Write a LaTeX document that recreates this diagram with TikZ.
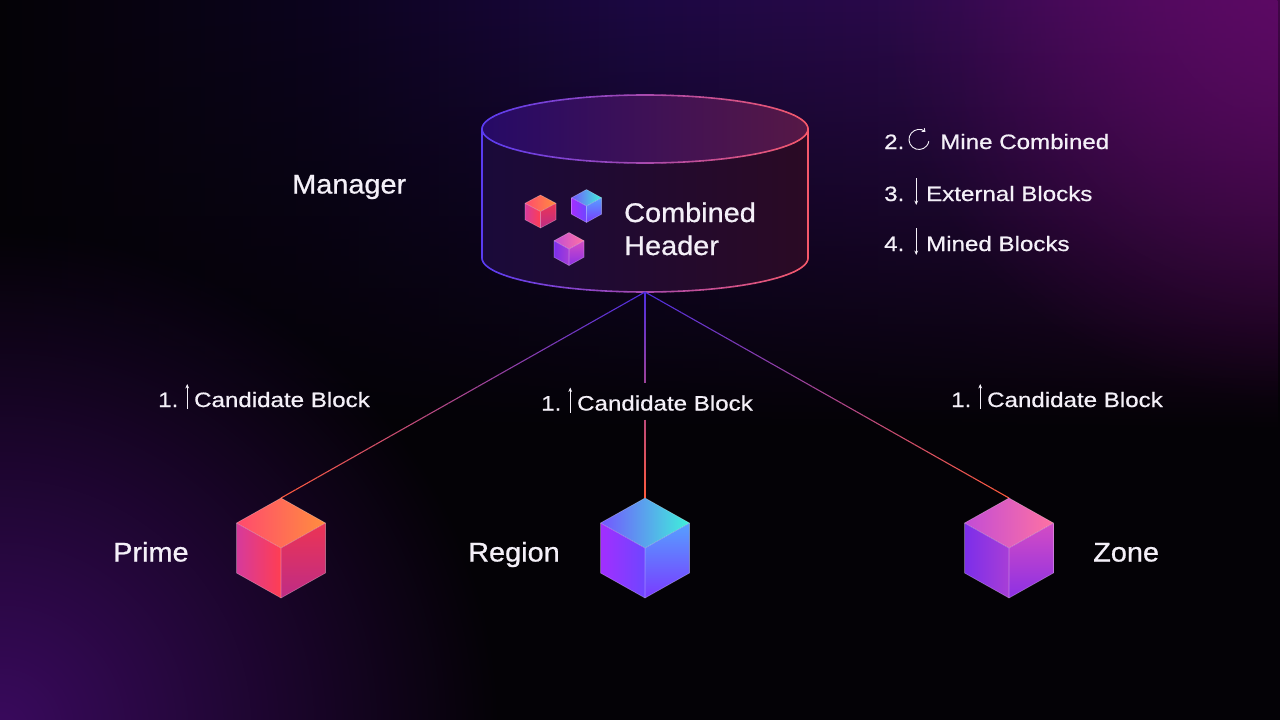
\documentclass[tikz,border=0pt]{standalone}
\usepackage{fontspec}
\setmainfont{Liberation Sans}[FakeStretch=1.07,FakeBold=0.8]
\newfontfamily\smallf{Liberation Sans}[FakeStretch=1.16,FakeBold=0.7]
\usetikzlibrary{calc,arrows.meta,fadings}

\definecolor{bg}{HTML}{040206}
\definecolor{txt}{HTML}{F4F0F8}
\definecolor{tb0}{HTML}{050307}
\definecolor{tb1}{HTML}{0C041E}
\definecolor{tb2}{HTML}{1C0842}
\definecolor{tb3}{HTML}{2E0A4C}
\definecolor{tb4}{HTML}{5C0A64}
\definecolor{blg}{HTML}{3A0A5E}
\definecolor{blu}{HTML}{5A3CF2}
\definecolor{cor}{HTML}{F5586A}
\definecolor{lblu}{HTML}{4E2EE2}
\definecolor{lcor}{HTML}{FF5A3C}
\definecolor{bodyL}{HTML}{1A0A3A}
\definecolor{bodyR}{HTML}{2A0A24}
\definecolor{topL}{HTML}{260A66}
\definecolor{topR}{HTML}{561846}
% prime
\definecolor{pTopL}{HTML}{FF4A6E}
\definecolor{pTopR}{HTML}{FF8E3E}
\definecolor{pLfL}{HTML}{D63A9C}
\definecolor{pLfR}{HTML}{FF3E52}
\definecolor{pRfT}{HTML}{EC3454}
\definecolor{pRfB}{HTML}{BE2C86}
% region
\definecolor{rTopL}{HTML}{7456FF}
\definecolor{rTopR}{HTML}{3EF2DA}
\definecolor{rLfL}{HTML}{A22EFF}
\definecolor{rLfR}{HTML}{6E46FF}
\definecolor{rRfT}{HTML}{56A0FF}
\definecolor{rRfB}{HTML}{7A3AFF}
% zone
\definecolor{zTopL}{HTML}{C24CD6}
\definecolor{zTopR}{HTML}{FF72A2}
\definecolor{zLfL}{HTML}{7C2EEA}
\definecolor{zLfR}{HTML}{A83ED6}
\definecolor{zRfT}{HTML}{D44CC4}
\definecolor{zRfB}{HTML}{8C30E4}

\tikzfading[name=glowfade, inner color=transparent!0, outer color=transparent!100]
\tikzfading[name=topfade, top color=transparent!0, bottom color=transparent!100]
\pgfdeclarehorizontalshading{topband}{100bp}{color(0bp)=(tb0); color(25bp)=(tb0); color(37.5bp)=(tb1); color(50bp)=(tb2); color(62.5bp)=(tb3); color(75bp)=(tb4); color(100bp)=(tb4)}

\newcommand{\uparr}{\tikz[baseline=0pt,x=1pt,y=1pt]{\draw[txt,line width=0.9pt,-{Stealth[length=4.5pt,width=3.8pt]}] (0,-2) -- (0,23);}}
\newcommand{\dnarr}{\tikz[baseline=0pt,x=1pt,y=1pt]{\draw[txt,line width=0.9pt,-{Stealth[length=4.5pt,width=3.8pt]}] (0,23) -- (0,-4);}}
\newcommand{\circarr}{\tikz[baseline=0pt,x=1pt,y=1pt]{\draw[txt,line width=0.9pt,{Straight Barb[length=2.5pt,width=4pt]}-] (10,9.5) ++(50:10) arc[start angle=50,end angle=350,radius=10];}}

\newcommand{\isocube}[9]{%
  \shade[left color=#4, right color=#5] ($(#1)+(0,-#3)$) -- ($(#1)+(#2,-#3/2)$) -- (#1) -- ($(#1)+(-#2,-#3/2)$) -- cycle;
  \shade[left color=#6, right color=#7] ($(#1)+(-#2,-#3/2)$) -- (#1) -- ($(#1)+(0,#3)$) -- ($(#1)+(-#2,#3/2)$) -- cycle;
  \shade[top color=#8, bottom color=#9] (#1) -- ($(#1)+(#2,-#3/2)$) -- ($(#1)+(#2,#3/2)$) -- ($(#1)+(0,#3)$) -- cycle;
  \draw[white, opacity=0.3, line width=0.6pt, line join=round] ($(#1)+(0,-#3)$) -- ($(#1)+(#2,-#3/2)$) -- ($(#1)+(#2,#3/2)$) -- ($(#1)+(0,#3)$) -- ($(#1)+(-#2,#3/2)$) -- ($(#1)+(-#2,-#3/2)$) -- cycle;
  \draw[white, opacity=0.35, line width=0.6pt] ($(#1)+(-#2,-#3/2)$) -- (#1) -- ($(#1)+(#2,-#3/2)$) (#1) -- ($(#1)+(0,#3)$);
}

\newcommand{\gradconn}[4]{%
  \foreach \i in {#3,...,#4}{%
    \pgfmathsetmacro\ta{\i/50}%
    \pgfmathsetmacro\tb{(\i+1)/50}%
    \pgfmathsetmacro\pc{100*(\i+0.5)/50}%
    \draw[conn, color=lcor!\pc!lblu] ($(#1)!\ta!(#2)$) -- ($(#1)!\tb!(#2)$);
  }}

\begin{document}
\begin{tikzpicture}[x=1pt,y=-1pt,
  big/.style={font=\fontsize{27}{32}\selectfont, text=txt, inner sep=0pt, anchor=base west},
  small/.style={font=\smallf\fontsize{20.8}{25}\selectfont, text=txt, inner sep=0pt, anchor=base west},
  conn/.style={line width=1.1pt},
  rim/.style={line width=1.6pt, line cap=round}]
\useasboundingbox (0,0) rectangle (1280,720);

% background
\fill[bg] (0,0) rectangle (1280,720);
\shade[shading=topband, path fading=topfade] (0,0) rectangle (1280,430);
\begin{scope}
  \clip (0,0) rectangle (1280,720);
  \fill[blg, path fading=glowfade] (0,730) circle (500);
  \fill[tb4, path fading=glowfade, opacity=0.7] (1280,0) circle (400);
\end{scope}

% cylinder (manager)
\coordinate (cyl) at (645,129);
\coordinate (mgr) at (645,292);
\shade[left color=bodyL, right color=bodyR] (482,129) -- (482,258) -- plot[domain=180:0, samples=61] ({645+163*cos(\x)},{258+34*sin(\x)}) -- (808,129) -- cycle;
\shade[left color=topL, right color=topR] (cyl) ellipse [x radius=163pt, y radius=34pt];
\draw[rim, blu] (482,129) -- (482,258);
\draw[rim, cor] (808,129) -- (808,258);
\foreach \a in {0,3,...,357}{%
  \pgfmathsetmacro\pc{50*(1+cos(\a+1.5))}%
  \draw[rim, color=cor!\pc!blu] ({645+163*cos(\a)},{129+34*sin(\a)}) -- ({645+163*cos(\a+3)},{129+34*sin(\a+3)});
}
\foreach \a in {0,3,...,177}{%
  \pgfmathsetmacro\pc{50*(1+cos(\a+1.5))}%
  \draw[rim, color=cor!\pc!blu] ({645+163*cos(\a)},{258+34*sin(\a)}) -- ({645+163*cos(\a+3)},{258+34*sin(\a+3)});
}

% cube anchors
\coordinate (prime) at (281,548);
\coordinate (primeTop) at (281,498);
\coordinate (region) at (645,548);
\coordinate (regionTop) at (645,498);
\coordinate (zone) at (1009,548);
\coordinate (zoneTop) at (1009,498);

% connectors
\gradconn{mgr}{primeTop}{0}{49}
\gradconn{mgr}{zoneTop}{0}{49}
\gradconn{mgr}{regionTop}{0}{21}
\gradconn{mgr}{regionTop}{31}{49}

% cubes
\isocube{prime}{44.5}{50}{pTopL}{pTopR}{pLfL}{pLfR}{pRfT}{pRfB}
\isocube{region}{44.5}{50}{rTopL}{rTopR}{rLfL}{rLfR}{rRfT}{rRfB}
\isocube{zone}{44.5}{50}{zTopL}{zTopR}{zLfL}{zLfR}{zRfT}{zRfB}

% small cubes inside the header
\coordinate (sc1) at (540.5,211.5);
\coordinate (sc2) at (586.5,206);
\coordinate (sc3) at (569,249);
\isocube{sc1}{15.5}{16.5}{pTopL}{pTopR}{pLfL}{pLfR}{pRfT}{pRfB}
\isocube{sc2}{15}{16.5}{rTopL}{rTopR}{rLfL}{rLfR}{rRfT}{rRfB}
\isocube{sc3}{15}{16.5}{zTopL}{zTopR}{zLfL}{zLfR}{zRfT}{zRfB}

% texts
\node[big] (manager) at (292,193.5) {Manager};
\node[big] (comb1) at (624,222) {Combined};
\node[big] (comb2) at (624,255) {Header};

\node[small] (step2) at (884,149) {2.\hspace{3pt}\circarr\hspace{11pt}Mine Combined};
\node[small] (step3) at (884,201) {3.\hspace{10pt}\dnarr\hspace{8pt}External Blocks};
\node[small] (step4) at (884,251) {4.\hspace{10pt}\dnarr\hspace{8pt}Mined Blocks};

\node[small] (candP) at (158,407) {1.\hspace{7pt}\uparr\hspace{5pt}Candidate Block};
\node[small] (candR) at (541,410.5) {1.\hspace{7pt}\uparr\hspace{5pt}Candidate Block};
\node[small] (candZ) at (951,407) {1.\hspace{7pt}\uparr\hspace{5pt}Candidate Block};

\node[big] (primeL) at (113,561.5) {Prime};
\node[big] (regionL) at (468,561.5) {Region};
\node[big] (zoneL) at (1093,561.5) {Zone};
\end{tikzpicture}
\end{document}
